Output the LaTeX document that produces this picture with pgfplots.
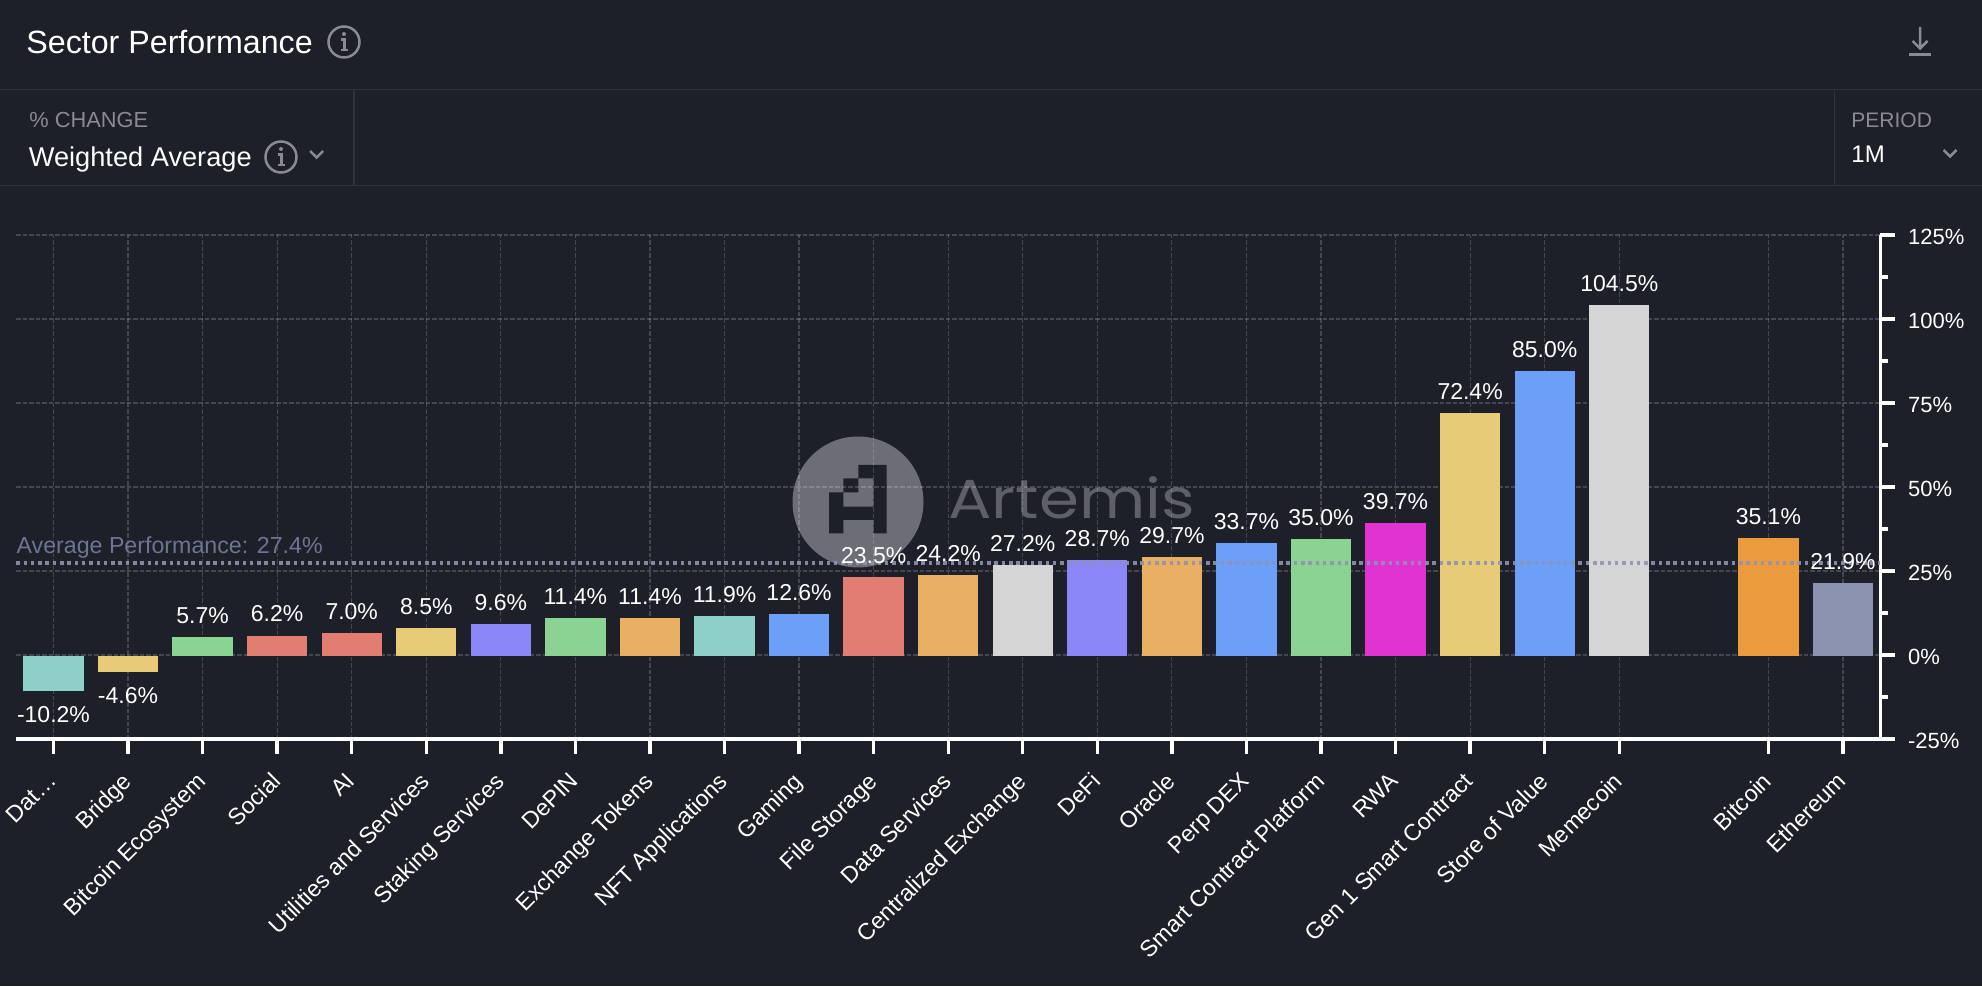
\documentclass[border=0pt]{standalone}
\usepackage{pgfplots}
\usepackage{pgfplotstable}
\usepackage{fontspec}
\pgfplotsset{compat=1.18}
\setmainfont{Liberation Sans}
\newfontface\markfont{Poppins}
\definecolor{bg}{HTML}{1D1F29}
\definecolor{rule}{HTML}{2F313B}
\definecolor{dim}{HTML}{8A8A92}
\definecolor{wm}{HTML}{6C6D76}
\definecolor{wmt}{HTML}{5E5F69}
\definecolor{avg}{HTML}{8F93B1}
\definecolor{avgt}{HTML}{6F7492}
\definecolor{cteal}{HTML}{8ECFC9}
\definecolor{cyellow}{HTML}{E8CB76}
\definecolor{cgreen}{HTML}{8AD392}
\definecolor{cred}{HTML}{E27D72}
\definecolor{cpurple}{HTML}{8B87F8}
\definecolor{corange}{HTML}{E9B064}
\definecolor{cblue}{HTML}{6C9FF8}
\definecolor{cgray}{HTML}{D5D5D5}
\definecolor{cmag}{HTML}{E033D1}
\definecolor{cbtc}{HTML}{EC9A3E}
\definecolor{ceth}{HTML}{8C93B0}
\newcommand\fs[1]{\fontsize{#1}{#1}\selectfont}
\pgfplotstableread{
x y
2 5.7
3 6.2
4 7.0
5 8.5
6 9.6
7 11.4
8 11.4
9 11.9
10 12.6
11 23.5
12 24.2
13 27.2
14 28.7
15 29.7
16 33.7
17 35.0
18 39.7
19 72.4
20 85.0
21 104.5
23 35.1
24 21.9
}\poslabels
\pgfplotstableread{
x y
0 -10.2
1 -4.6
}\neglabels
\newcommand\infoicon[2]{%
  \draw[dim,line width=1.25pt] (#1,#2) circle[radius=15.5];
  \fill[dim] (#1,#2-8) circle[radius=2];
  \draw[dim,line width=1.1pt] (#1-3,#2-2.5) -- (#1+.5,#2-2.5) -- (#1+.5,#2+7.5) (#1-3,#2+8) -- (#1+4,#2+8);
}
\newcommand\chev[2]{%
  \draw[dim,line width=1.25pt] (#1-6.5,#2-3) -- (#1,#2+3.5) -- (#1+6.5,#2-3);
}
\begin{document}
\begin{tikzpicture}
\useasboundingbox (0,0) rectangle (991pt,493pt);
\fill[bg] (0,0) rectangle (991pt,493pt);
\begin{scope}[x=0.5pt,y=-0.5pt,yshift=493pt]
  % header rules
  \draw[rule,line width=.7pt] (0,89.5) -- (1982,89.5) (0,185.7) -- (1982,185.7) (354,89.5) -- (354,185.7) (1834.7,89.5) -- (1834.7,185.7);
  % header text
  \node[anchor=base west,inner sep=0,text=white] at (26,53.5) {\fs{16.1}Sector Performance};
  \infoicon{344}{42}
  \node[anchor=base west,inner sep=0,text=dim] at (29,128) {\fs{10.9}\% CHANGE};
  \node[anchor=base west,inner sep=0,text=white] at (28.5,166.5) {\fs{13.6}Weighted Average};
  \infoicon{281}{157}
  \chev{316.7}{154}
  \node[anchor=base west,inner sep=0,text=dim] at (1851,128) {\fs{10.5}PERIOD};
  \node[anchor=base west,inner sep=0,text=white] at (1851,162.3) {\fs{12}1M};
  \chev{1950}{153}
  % download icon
  \draw[dim,line width=1.25pt] (1920,27) -- (1920,48) (1912.5,41) -- (1920,48.5) -- (1927.5,41);
  \draw[dim,line width=1.5pt] (1909,55) -- (1931,55);
  % watermark
  \fill[wm] (858,502) circle[radius=65.5];
  \fill[bg]
    (873.3,465) rectangle (886.7,533.3)
    (858.3,465) rectangle (873.3,478.3)
    (843.3,478.3) rectangle (858.3,492.3)
    (829,492.3) rectangle (843.3,533.3)
    (843.3,506.7) rectangle (873.3,520);
  \node[anchor=base west,inner sep=0,text=wmt] at (948,519) {\scalebox{1.17}[1]{\fs{27.5}\markfont Artemis}};
\end{scope}
\begin{axis}[
  at={(8.1pt,123.5pt)},anchor=south west,
  scale only axis,width=932pt,height=252pt,
  ybar,bar width=30.15pt,bar shift=0pt,
  xmin=-0.5,xmax=24.5,ymin=-25,ymax=125,
  clip=false,
  axis x line*=bottom,axis y line*=right,
  axis line style={-,white},
  x axis line style={line width=1.9pt},
  y axis line style={line width=1.3pt},
  xtick={0,...,21,23,24},
  xticklabels={Dat…,Bridge,Bitcoin Ecosystem,Social,AI,Utilities and Services,Staking Services,DePIN,Exchange Tokens,NFT Applications,Gaming,File Storage,Data Services,Centralized Exchange,DeFi,Oracle,Perp DEX,Smart Contract Platform,RWA,Gen 1 Smart Contract,Store of Value,Memecoin,Bitcoin,Ethereum},
  ytick={-25,0,25,50,75,100,125},
  yticklabels={-25\%,0\%,25\%,50\%,75\%,100\%,125\%},
  minor y tick num=1,
  tick align=outside,
  major tick length=7.25pt,minor tick length=4pt,
  every tick/.style={white,line width=1.7pt},
  xticklabel style={rotate=45,anchor=north east,inner sep=0pt,text=white,font=\fs{11.6},yshift=-3.5pt,xshift=-8.6pt},
  yticklabel style={anchor=west,inner sep=0pt,text=white,font=\fs{11},xshift=6.5pt,yshift=-1pt},
  grid=major,
  major grid style={white,opacity=.18,line width=.6pt,dash pattern=on 2.25pt off 1pt},
  every axis plot/.append style={yshift=-.7pt},
  every node near coord/.append style={anchor=center,inner sep=0pt,text=white,font=\fs{11.5}},
]
\addplot[fill=cteal,draw=none] coordinates {(0,-10.2)};
\addplot[fill=cyellow,draw=none] coordinates {(1,-4.6)};
\addplot[fill=cgreen,draw=none] coordinates {(2,5.7)};
\addplot[fill=cred,draw=none] coordinates {(3,6.2)};
\addplot[fill=cred,draw=none] coordinates {(4,7.0)};
\addplot[fill=cyellow,draw=none] coordinates {(5,8.5)};
\addplot[fill=cpurple,draw=none] coordinates {(6,9.6)};
\addplot[fill=cgreen,draw=none] coordinates {(7,11.4)};
\addplot[fill=corange,draw=none] coordinates {(8,11.4)};
\addplot[fill=cteal,draw=none] coordinates {(9,11.9)};
\addplot[fill=cblue,draw=none] coordinates {(10,12.6)};
\addplot[fill=cred,draw=none] coordinates {(11,23.5)};
\addplot[fill=corange,draw=none] coordinates {(12,24.2)};
\addplot[fill=cgray,draw=none] coordinates {(13,27.2)};
\addplot[fill=cpurple,draw=none] coordinates {(14,28.7)};
\addplot[fill=corange,draw=none] coordinates {(15,29.7)};
\addplot[fill=cblue,draw=none] coordinates {(16,33.7)};
\addplot[fill=cgreen,draw=none] coordinates {(17,35.0)};
\addplot[fill=cmag,draw=none] coordinates {(18,39.7)};
\addplot[fill=cyellow,draw=none] coordinates {(19,72.4)};
\addplot[fill=cblue,draw=none] coordinates {(20,85.0)};
\addplot[fill=cgray,draw=none] coordinates {(21,104.5)};
\addplot[fill=cbtc,draw=none] coordinates {(23,35.1)};
\addplot[fill=ceth,draw=none] coordinates {(24,21.9)};
% average line
\addplot[sharp plot,mark=none,avg,opacity=.9,line width=1.6pt,dash pattern=on 1.75pt off 1.9pt,yshift=.7pt] coordinates {(-0.5,27.4) (24.5,27.4)};
\node[anchor=base west,inner sep=0pt,text=avgt,font=\fs{11.6}] at (axis cs:-0.5,30.1) {Average Performance: 27.4\%};
% value labels
\addplot[draw=none,fill=none,point meta=explicit symbolic,
  nodes near coords={\pgfplotspointmeta\%},
  every node near coord/.append style={yshift=10.75pt}]
  table[x=x,y=y,meta=y] {\poslabels};
\addplot[draw=none,fill=none,point meta=explicit symbolic,
  nodes near coords={\pgfplotspointmeta\%},
  every node near coord/.append style={yshift=-12pt}]
  table[x=x,y=y,meta=y] {\neglabels};
\end{axis}
\end{tikzpicture}
\end{document}
